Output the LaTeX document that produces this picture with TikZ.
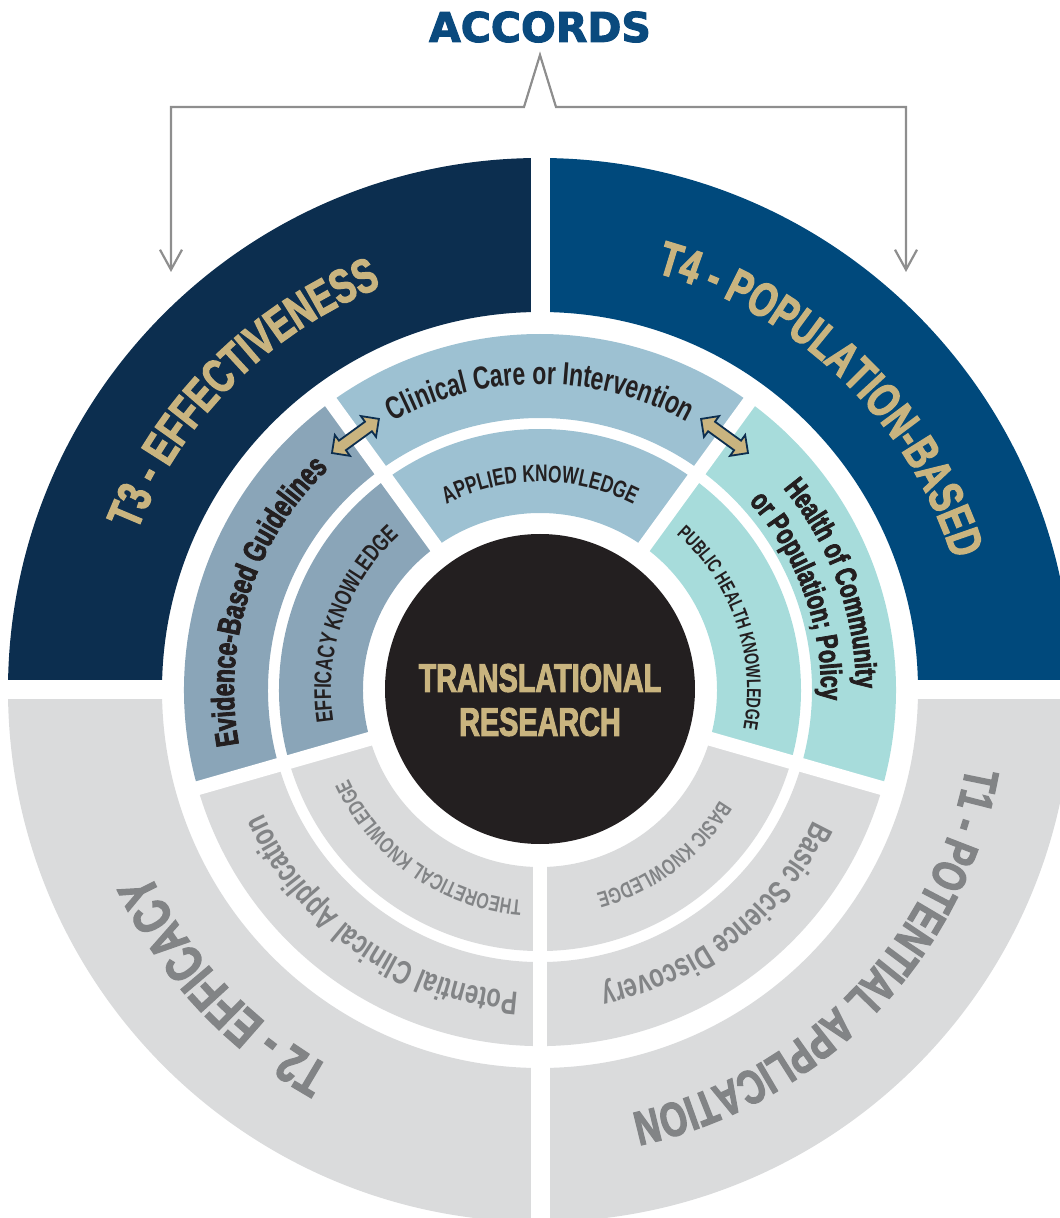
\documentclass[tikz,border=0pt]{standalone}
\usepackage{fontspec}
\setmainfont{Liberation Sans}
\newfontfamily\condfont[FakeStretch=0.72]{Liberation Sans}
\newfontfamily\heavycond[FakeStretch=0.72, FakeBold=2.5]{Liberation Sans}
\newfontfamily\heavyfont[FakeBold=2.5]{DejaVu Sans}
\usetikzlibrary{decorations.text, shapes.arrows, arrows.meta}

\definecolor{effnavy}{HTML}{0C2E4F}
\definecolor{popblue}{HTML}{00497C}
\definecolor{gold}{HTML}{C9B47F}
\definecolor{caresteel}{HTML}{9DC1D2}
\definecolor{guideslate}{HTML}{8AA5B8}
\definecolor{healthaqua}{HTML}{A7DCDB}
\definecolor{greyband}{HTML}{DADBDC}
\definecolor{greyink}{HTML}{828486}
\definecolor{ink}{HTML}{231F20}
\definecolor{bracketgrey}{HTML}{8E8E8E}
\definecolor{accordsblue}{HTML}{0A4A7E}

\newcommand\bandfont{\heavycond\bfseries\fontsize{48}{52}\selectfont}
\newcommand\efficacyfont{\heavycond\bfseries\fontsize{53}{57}\selectfont}
\newcommand\ringfont{\condfont\bfseries\fontsize{32}{35}\selectfont}
\newcommand\guidefont{\heavycond\bfseries\fontsize{32}{35}\selectfont}
\newcommand\healthfont{\heavycond\bfseries\fontsize{30}{33}\selectfont}
\newcommand\greyringfont{\condfont\bfseries\fontsize{33}{36}\selectfont}
\newcommand\knowfont{\condfont\bfseries\fontsize{24}{27}\selectfont}
\newcommand\publicfont{\condfont\bfseries\fontsize{20}{23}\selectfont}
\newcommand\greyknowfont{\condfont\bfseries\fontsize{22}{25}\selectfont}
\newcommand\hubfont{\heavycond\bfseries\fontsize{40}{44}\selectfont}
\newcommand\accordsfont{\heavyfont\bfseries\fontsize{41}{44}\selectfont}

% colour, start angle, end angle, inner radius, outer radius
\newcommand{\ringpart}[5]{%
  \fill[#1] (#2:#4) arc[start angle=#2, end angle=#3, radius=#4]
    -- (#3:#5) arc[start angle=#3, end angle=#2, radius=#5] -- cycle;}
% colour, font, text, start angle, end angle, radius (clockwise, tops outward)
\newcommand{\arclabel}[6]{%
  \path[decorate, decoration={text along path, text align=center,
    text color=#1, text={|#2|#3}}]
    (#4:#6) arc[start angle=#4, end angle=#5, radius=#6];}

\begin{document}
\begin{tikzpicture}[x=1pt, y=1pt,
  dblarrow/.style={double arrow, fill=gold, draw=effnavy, line width=1.8pt,
    inner sep=0pt, minimum height=58pt, double arrow head extend=7pt},
  bracket/.style={draw=bracketgrey, line width=2.2pt,
    {Straight Barb[length=20pt,width=22pt]}-{Straight Barb[length=20pt,width=22pt]}},
  gap/.style={draw=white, line width=#1}]
\useasboundingbox (-540,-528) rectangle (520,690);
\clip (-540,-528) rectangle (520,690);

% outer quadrants
\foreach \col/\a/\b in {popblue/0/90, effnavy/90/180, greyband/180/270, greyband/270/360} {
  \ringpart{\col}{\a}{\b}{378}{532}
}

% middle and inner rings
\foreach \col/\a/\b in {caresteel/54/126, guideslate/126/196, healthaqua/-16/54, greyband/196/344} {
  \ringpart{\col}{\a}{\b}{272}{356}
  \ringpart{\col}{\a}{\b}{177}{261}
}

% white gaps
\foreach \a in {0,90,180,270}
  \draw[gap=19pt] (\a:368) -- (\a:545);
\foreach \a in {54,126,196,270,344}
  \draw[gap=14pt] (\a:165) -- (\a:366);

\node[circle, fill=ink, minimum size=310pt, inner sep=0pt] (hub) at (0,1) {};
\node[text=gold, font=\hubfont, align=center] (hubtext) at (0,-10) {TRANSLATIONAL\\RESEARCH};

% outer band labels
\arclabel{gold}{\bandfont}{T3 - EFFECTIVENESS}{180}{90}{433}
\arclabel{gold}{\bandfont}{T4 - POPULATION-BASED}{91}{1}{433}
\arclabel{greyink}{\efficacyfont}{T2 - EFFICACY}{268}{178}{431}
\arclabel{greyink}{\bandfont}{T1 - POTENTIAL APPLICATION}{361}{271}{433}

% middle ring labels
\arclabel{ink}{\ringfont}{Clinical Care or Intervention}{126}{54}{306}
\arclabel{ink}{\guidefont}{Evidence-Based Guidelines}{197}{127}{306}
\arclabel{ink}{\healthfont}{Health of Community}{55}{-15}{316}
\arclabel{ink}{\healthfont}{or Population; Policy}{55}{-15}{281}
\arclabel{greyink}{\greyringfont}{Potential Clinical Application}{270}{200}{303}
\arclabel{greyink}{\greyringfont}{Basic Science Discovery}{343}{273}{303}

% inner ring labels
\arclabel{ink}{\knowfont}{APPLIED KNOWLEDGE}{125}{55}{208}
\arclabel{ink}{\knowfont}{EFFICACY KNOWLEDGE}{195}{126}{209}
\arclabel{ink}{\publicfont}{PUBLIC HEALTH KNOWLEDGE}{53}{-15}{207}
\arclabel{greyink}{\greyknowfont}{THEORETICAL KNOWLEDGE}{272}{198}{211}
\arclabel{greyink}{\greyknowfont}{BASIC KNOWLEDGE}{342}{272}{211}

\node[dblarrow, rotate=36] (swapL) at (126:314) {\rule{0pt}{10pt}};
\node[dblarrow, rotate=-36] (swapR) at (54:314) {\rule{0pt}{10pt}};

\node[font=\accordsfont, text=accordsblue, inner sep=0pt] (accords) at (0,663) {ACCORDS};
\coordinate (apex) at (0,635);
\coordinate (kinkL) at (-16,583);
\coordinate (kinkR) at (16,583);
\coordinate (effend) at (-369,418);
\coordinate (popend) at (366,418);
\draw[bracket] (effend) |- (kinkL) -- (apex) -- (kinkR) -| (popend);
\end{tikzpicture}
\end{document}
